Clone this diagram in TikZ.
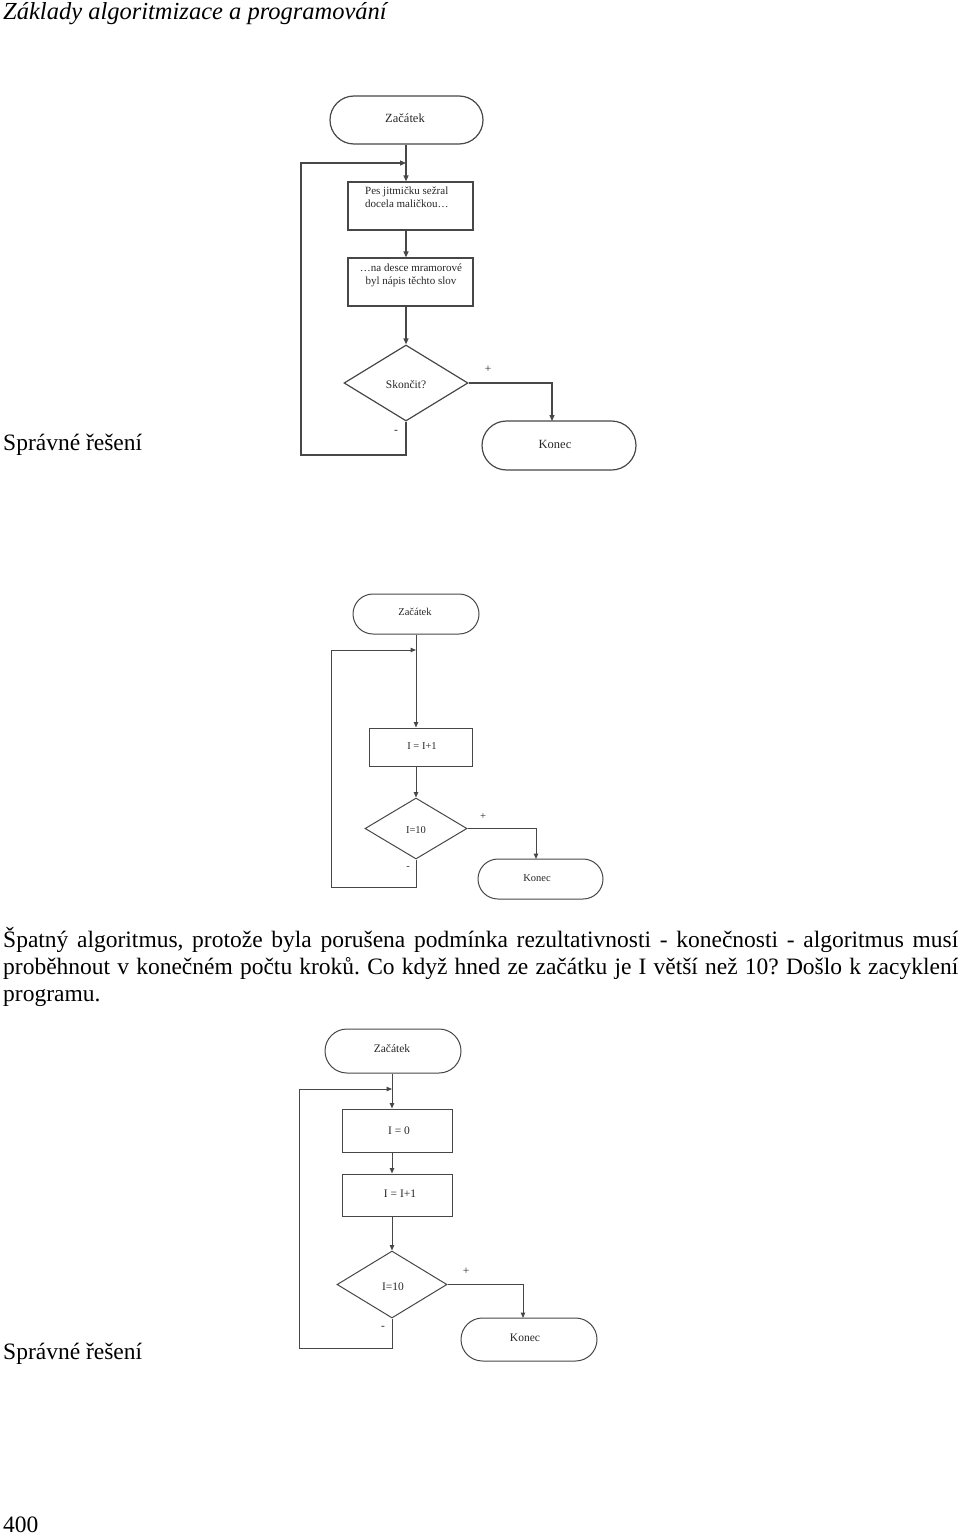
\documentclass[tikz,border=0pt]{standalone}
\usepackage{fontspec}
\setmainfont{Liberation Serif}
\usetikzlibrary{shapes.geometric,arrows.meta}
\frenchspacing
\begin{document}
\begin{tikzpicture}[x=1pt,y=-1pt,
  ln/.style={draw=black!72, line width=1.2pt},
  ln2/.style={draw=black!72, line width=1pt},
  arr/.style={ln, -{Triangle[length=6pt,width=5pt]}},
  arr2/.style={ln2, -{Triangle[length=5.5pt,width=4.5pt]}},
  boxs/.style={rectangle, inner sep=0pt},
  dias/.style={diamond, inner sep=0pt},
  body/.style={inner sep=0pt, anchor=base west, font=\fontsize{23.5}{27}\selectfont},
  lab/.style={inner sep=0pt, text=black!85},
]
\useasboundingbox (0,0) rectangle (960,1536);

% ---------- page text ----------
\node[body, font=\fontsize{24.5}{27}\selectfont\itshape] (hdr) at (3,20) {Základy algoritmizace a programování};
\node[body] (sr1) at (3,450) {Správné řešení};
\node[body] (p1) at (3,947) {\makebox[955pt][s]{Špatný algoritmus, protože byla porušena podmínka rezultativnosti - konečnosti - algoritmus musí}};
\node[body] (p2) at (3,974) {\makebox[955pt][s]{proběhnout v konečném počtu kroků. Co když hned ze začátku je I větší než 10? Došlo k zacyklení}};
\node[body] (p3) at (3,1001) {programu.};
\node[body] (sr2) at (3,1359) {Správné řešení};
\node[body] (pg) at (3,1532) {400};

% ---------- diagram 1 ----------
\begin{scope}[font=\fontsize{11.5}{13}\selectfont]
\node[ln, boxs, minimum width=153pt, minimum height=48pt, rounded corners=24pt] (s1) at (406.5,120) {};
\node[lab, font=\fontsize{12.5}{14}\selectfont] (s1t) at (405,118) {Začátek};
\node[ln, boxs, minimum width=125pt, minimum height=48pt] (b1) at (410.5,206) {};
\node[lab, align=left, anchor=north west, font=\fontsize{11}{12.5}\selectfont] (b1t) at (365,187) {Pes jitmičku sežral\\docela maličkou…};
\node[ln, boxs, minimum width=125pt, minimum height=48pt] (b2) at (410.5,282) {};
\node[lab, align=center, anchor=north, font=\fontsize{11}{12.5}\selectfont] (b2t) at (411,264) {…na desce mramorové\\byl nápis těchto slov};
\node[ln, dias, minimum width=124pt, minimum height=76pt, aspect=1.63] (d1) at (406,383) {};
\node[lab] (d1t) at (406,385) {Skončit?};
\node[ln, boxs, minimum width=154pt, minimum height=49pt, rounded corners=24.5pt] (e1) at (559,445.5) {};
\node[lab, font=\fontsize{12.5}{14}\selectfont] (e1t) at (555,444) {Konec};
\node[lab] (pl1) at (488,369) {+};
\node[lab] (mi1) at (396,432) {-};
\coordinate (j1) at (406,163);
\coordinate (l1) at (301,455);
\coordinate (k1) at (552,421);
\draw[arr] (s1.south -| d1.north) -- (b1.north -| d1.north);
\draw[arr] (b1.south -| d1.north) -- (b2.north -| d1.north);
\draw[arr] (b2.south -| d1.north) -- (d1.north);
\draw[arr] (d1.east) -| (k1);
\draw[arr] (d1.south) |- (l1) |- (j1);
\end{scope}

% ---------- diagram 2 ----------
\begin{scope}[font=\fontsize{10.5}{12}\selectfont]
\node[ln2, boxs, minimum width=126pt, minimum height=40pt, rounded corners=20pt] (s2) at (416,614) {};
\node[lab] (s2t) at (415,612) {Začátek};
\node[ln2, boxs, minimum width=103pt, minimum height=38pt] (b3) at (420.5,747) {};
\node[lab] (b3t) at (422,746) {I = I+1};
\node[ln2, dias, minimum width=102pt, minimum height=61pt, aspect=1.67] (d2) at (416,828.5) {};
\node[lab] (d2t) at (416,830) {I=10};
\node[ln2, boxs, minimum width=125pt, minimum height=40pt, rounded corners=20pt] (e2) at (540.5,879) {};
\node[lab] (e2t) at (537,878) {Konec};
\node[lab] (pl2) at (483,817) {+};
\node[lab] (mi2) at (408,868) {-};
\coordinate (j2) at (416,650);
\coordinate (l2) at (331,887);
\coordinate (k2) at (536,859);
\draw[arr2] (s2.south) -- (b3.north -| s2.south);
\draw[arr2] (b3.south -| s2.south) -- (d2.north);
\draw[arr2] (d2.east) -| (k2);
\draw[arr2] (d2.south) |- (l2) |- (j2);
\end{scope}

% ---------- diagram 3 ----------
\begin{scope}[font=\fontsize{11.5}{13}\selectfont]
\node[ln2, boxs, minimum width=136pt, minimum height=44pt, rounded corners=22pt] (s3) at (393,1051) {};
\node[lab] (s3t) at (392,1049) {Začátek};
\node[ln2, boxs, minimum width=110pt, minimum height=43pt] (b4) at (397,1130.5) {};
\node[lab] (b4t) at (399,1131) {I = 0};
\node[ln2, boxs, minimum width=110pt, minimum height=42pt] (b5) at (397,1195) {};
\node[lab] (b5t) at (400,1194) {I = I+1};
\node[ln2, dias, minimum width=110pt, minimum height=67pt, aspect=1.64] (d3) at (392,1284.5) {};
\node[lab] (d3t) at (393,1287) {I=10};
\node[ln2, boxs, minimum width=136pt, minimum height=43pt, rounded corners=21.5pt] (e3) at (529,1339.5) {};
\node[lab] (e3t) at (525,1338) {Konec};
\node[lab] (pl3) at (466,1271) {+};
\node[lab] (mi3) at (383,1328) {-};
\coordinate (j3) at (392,1089);
\coordinate (l3) at (299,1348);
\coordinate (k3) at (523,1318);
\draw[arr2] (s3.south -| d3.north) -- (b4.north -| d3.north);
\draw[arr2] (b4.south -| d3.north) -- (b5.north -| d3.north);
\draw[arr2] (b5.south -| d3.north) -- (d3.north);
\draw[arr2] (d3.east) -| (k3);
\draw[arr2] (d3.south) |- (l3) |- (j3);
\end{scope}
\end{tikzpicture}
\end{document}
